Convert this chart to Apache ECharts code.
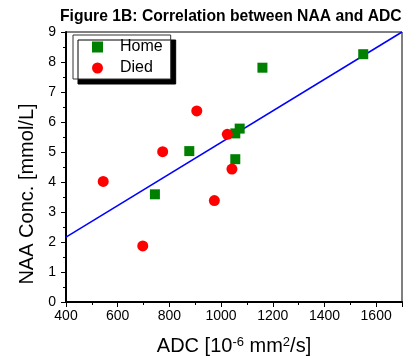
<!DOCTYPE html>
<html><head><meta charset="utf-8">
<script src="https://cdn.jsdelivr.net/npm/echarts@6/dist/echarts.min.js"></script>
<style>html,body{margin:0;padding:0;background:#fff}#c{width:417px;height:356px}</style>
</head><body><div id="c"></div>
<script>
var homeADC = [1550, 1160, 1072, 1055, 1055, 877, 744];
var homeNAA = [8.26, 7.81, 5.78, 5.62, 4.76, 5.03, 3.59];
var diedADC = [544, 697, 774, 906, 974, 1042, 1024];
var diedNAA = [4.02, 1.87, 5.01, 6.37, 3.38, 4.43, 5.59];
var fitADC = [400, 1700];
var fitNAA = [2.16, 9.0];
var seriesNames = ['Home', 'Died'];

function pairs(xs, ys){ return xs.map(function(x,i){ return [x, ys[i]]; }); }
var FONT = 'Liberation Sans, Arial, sans-serif';
var chart = echarts.init(document.getElementById('c'), null, {renderer:'canvas'});
chart.setOption({
  animation: false,
  backgroundColor: '#fff',
  title: {
    text: 'Figure 1B: Correlation between NAA and ADC',
    left: 60, top: 9, padding: 0,
    textStyle: {fontFamily: FONT, fontSize: 15.7, fontWeight: 'bold', color: '#000'}
  },
  legend: {
    data: [{name: seriesNames[0], icon: 'rect'}, {name: seriesNames[1], icon: 'circle'}],
    orient: 'vertical',
    left: 73, top: 35,
    padding: [4, 8, 3, 19],
    itemWidth: 11, itemHeight: 11, itemGap: 5,
    backgroundColor: '#fff',
    borderColor: '#333', borderWidth: 1,
    shadowColor: '#000', shadowBlur: 0, shadowOffsetX: 5, shadowOffsetY: 5,
    textStyle: {fontFamily: FONT, fontSize: 16, color: '#000', lineHeight: 16, padding: [0,0,0,12]}
  },
  grid: {left: 66, top: 32, right: 15, bottom: 54, outerBoundsMode: 'none', containLabel: false,
         show: true, borderColor: '#000', borderWidth: 1, backgroundColor: 'transparent'},
  xAxis: {
    type: 'value', min: 400, max: 1700, interval: 200,
    name: 'ADC [10{sup|-6} mm{sup|2}/s]',
    nameLocation: 'middle', nameGap: 34,
    nameTextStyle: {fontFamily: FONT, fontSize: 20, color: '#000',
      rich: {sup: {fontFamily: FONT, fontSize: 13, color: '#000', verticalAlign: 'top', padding: [0,0,8,0]}}},
    axisLine: {show: true, onZero: false, lineStyle: {color: '#000', width: 2}},
    axisTick: {show: true, inside: false, length: 5, lineStyle: {color: '#000', width: 1}},
    minorTick: {show: true, splitNumber: 2, length: 3, lineStyle: {color: '#000', width: 1}},
    splitLine: {show: false},
    axisLabel: {fontFamily: FONT, fontSize: 14, color: '#000', margin: 7, showMaxLabel: false,
      formatter: function(v){ return String(v); }}
  },
  yAxis: {
    type: 'value', min: 0, max: 9, interval: 1,
    name: 'NAA Conc. [mmol/L]',
    nameLocation: 'middle', nameGap: 28, nameRotate: 90,
    nameTextStyle: {fontFamily: FONT, fontSize: 20, color: '#000', padding: [0, 54, 0, 0]},
    axisLine: {show: true, onZero: false, lineStyle: {color: '#000', width: 2}},
    axisTick: {show: true, inside: false, length: 5, lineStyle: {color: '#000', width: 1}},
    minorTick: {show: true, splitNumber: 2, length: 3, lineStyle: {color: '#000', width: 1}},
    splitLine: {show: false},
    axisLabel: {fontFamily: FONT, fontSize: 14, color: '#000', margin: 10}
  },
  series: [
    {name: 'fit', type: 'line', data: pairs(fitADC, fitNAA), showSymbol: false, symbol: 'none',
     lineStyle: {color: '#0000ff', width: 1.5}, z: 3, silent: true},
    {name: seriesNames[0], type: 'scatter', symbol: 'rect', symbolSize: 10,
     itemStyle: {color: '#008000', opacity: 1}, data: pairs(homeADC, homeNAA), z: 4},
    {name: seriesNames[1], type: 'scatter', symbol: 'circle', symbolSize: 11,
     itemStyle: {color: '#ff0000', opacity: 1}, data: pairs(diedADC, diedNAA), z: 5}
  ]
});
</script></body></html>
